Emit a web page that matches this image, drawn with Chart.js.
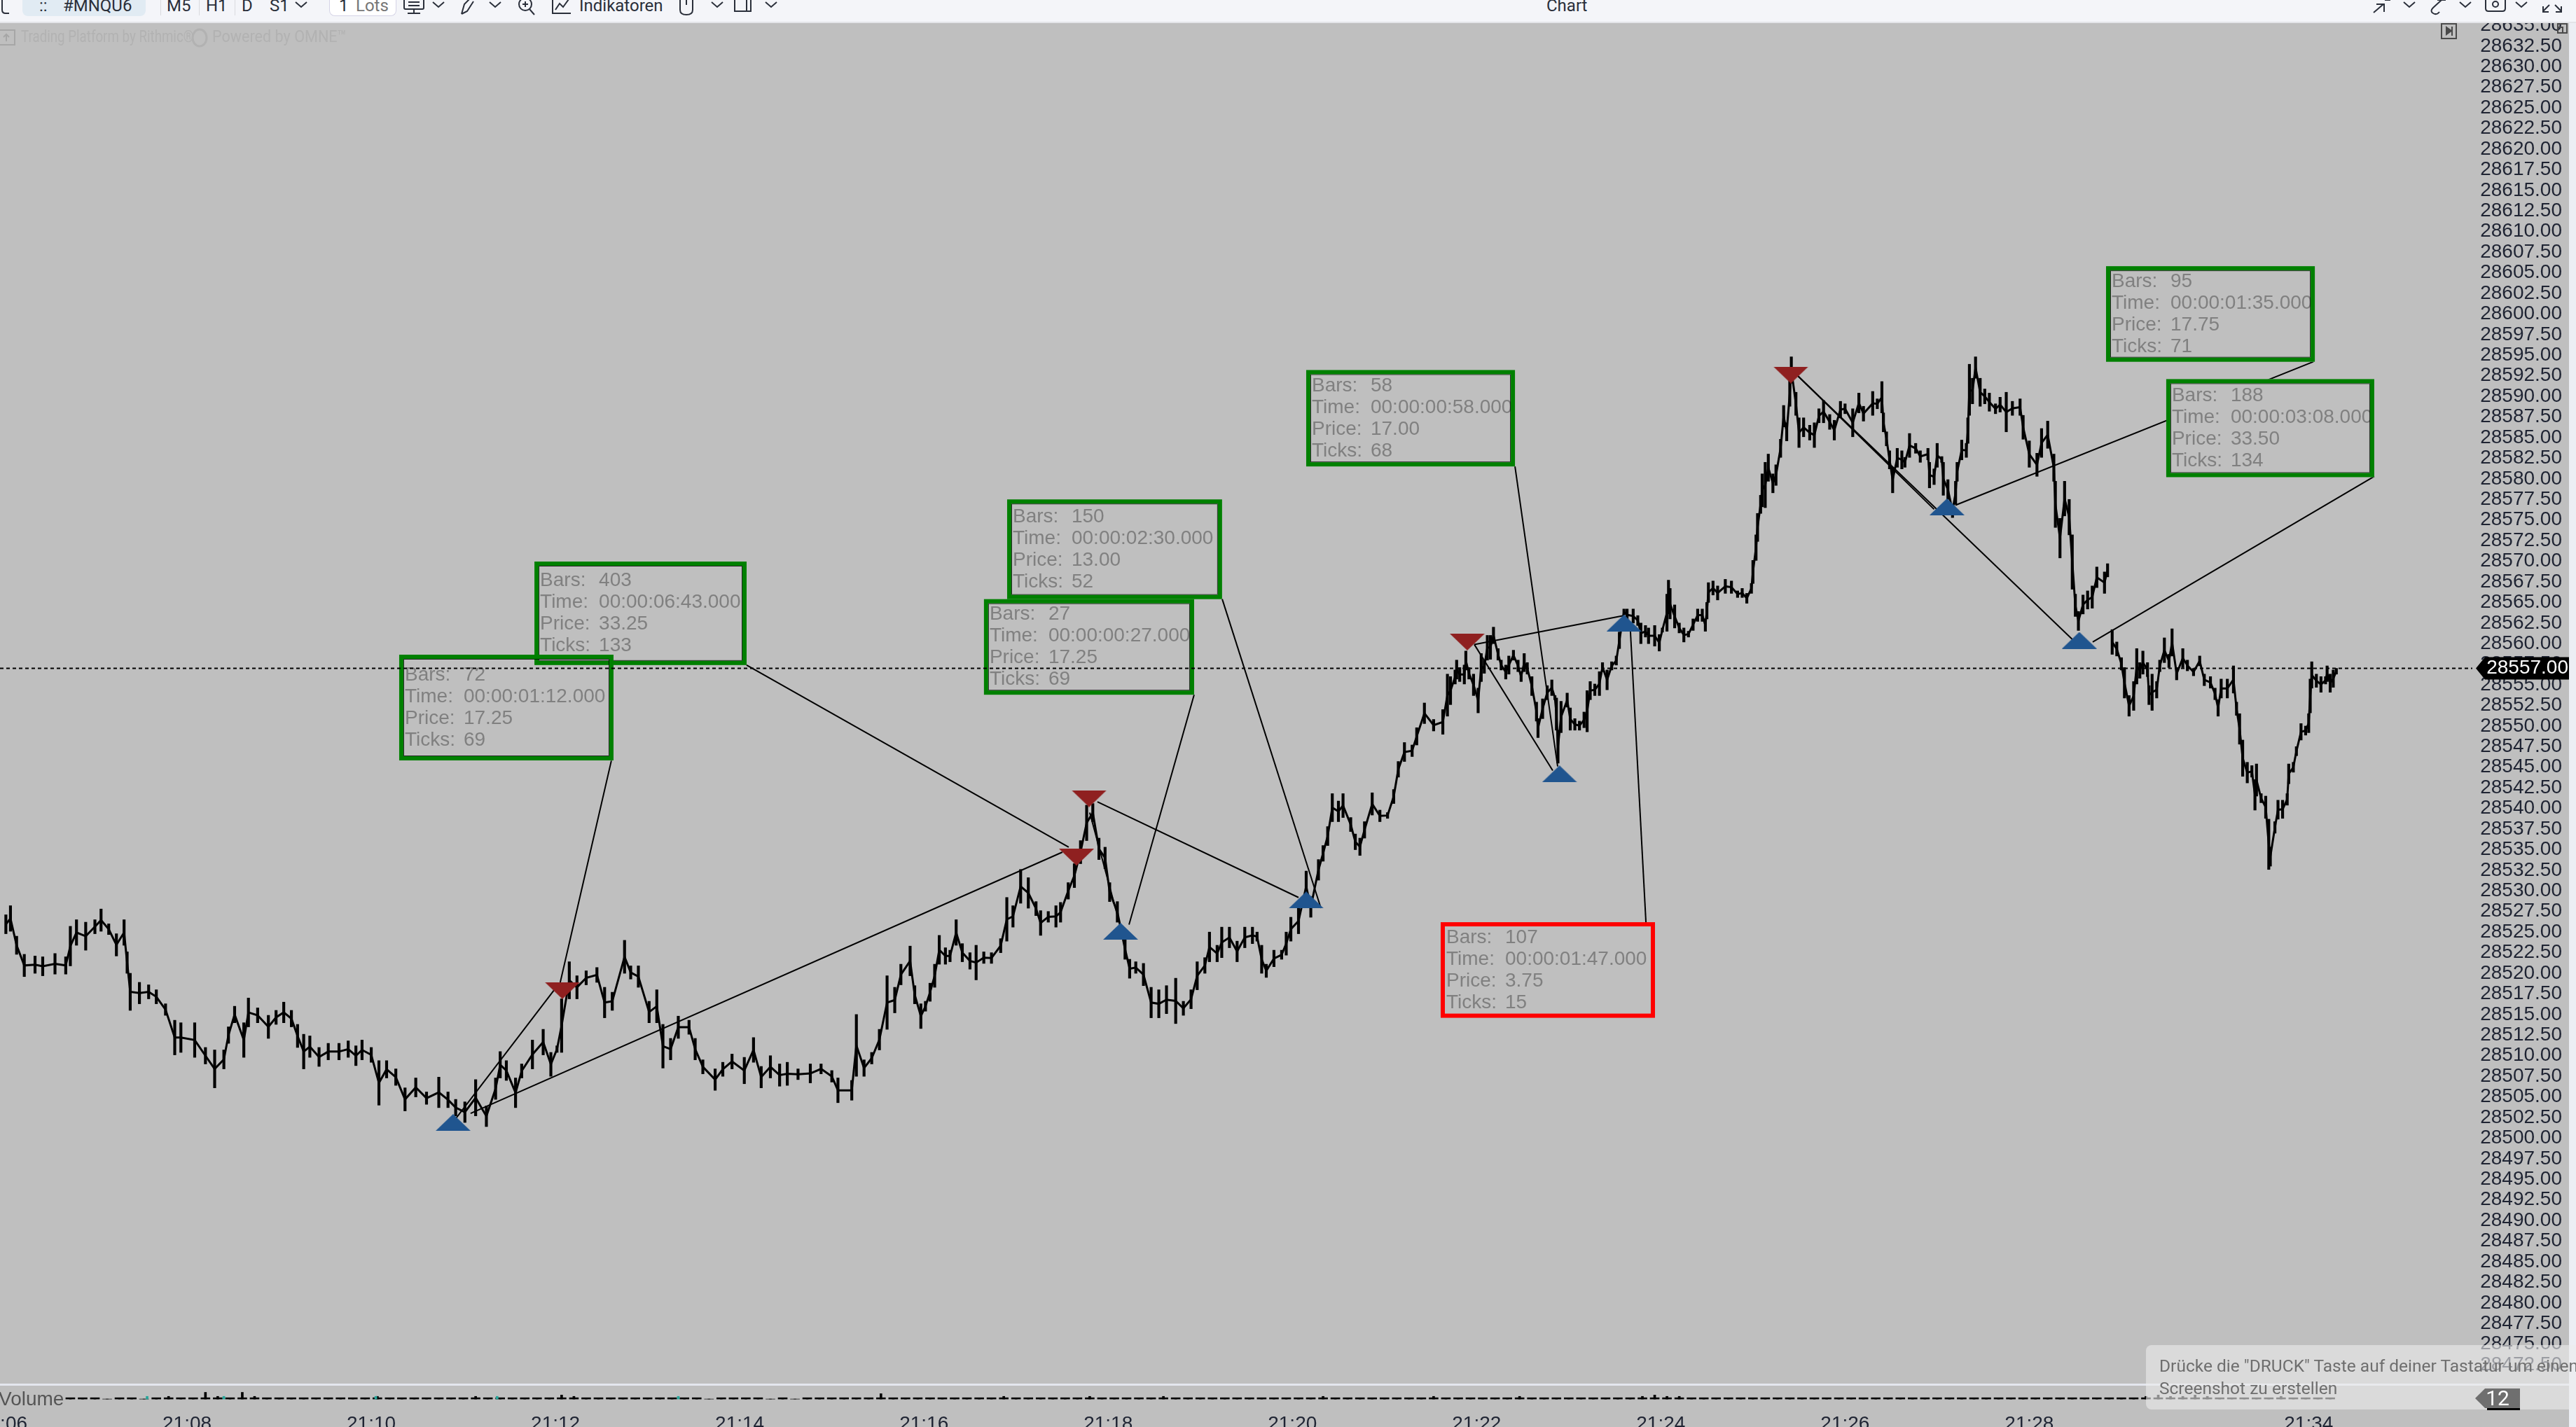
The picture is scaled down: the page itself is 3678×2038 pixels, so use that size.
<!DOCTYPE html>
<html lang="de">
<head>
    <meta charset="UTF-8">
    <title>Chart</title>
    <script src="https://cdn.jsdelivr.net/npm/chart.js"></script>
    <style>
        html, body {
            margin: 0;
            width: 3678px;
            height: 2038px;
            overflow: hidden;
            background: #bfbfbf;
            font-family: Roboto, Arial, sans-serif;
        }

        #grafica { position: absolute; left: 0; top: 0; }
        .abs { position: absolute; white-space: nowrap; }

        #toolbar {
            position: absolute; left: 0; top: 0; width: 3678px; height: 31px;
            background: #f4f5f9; border-bottom: 2px solid #e3e4e8;
            color: #2a2f3a; font-size: 24px; overflow: hidden;
        }
        #toolbar .abs { top: -8px; line-height: 32px; }
        #toolbar svg { position: absolute; top: 0; fill: none; stroke: #2a2f3a; stroke-width: 2; }
        #pill { left: 32px; top: 0 !important; width: 176px; height: 23px; background: #e1ebf3; border-radius: 0 0 8px 8px; }
        #lots { left: 470px; top: 0 !important; width: 94px; height: 22px; background: #fff; border: 1px solid #d5d4e6; border-top: 0; border-radius: 0 0 8px 8px; }
        .sep { top: 0 !important; width: 1px; height: 22px; background: #d9dade; }

        #rand { position: absolute; left: 3668px; top: 32px; width: 10px; height: 2006px; background: #eceef4; }
        #trenner { position: absolute; left: 0; top: 1976px; width: 3668px; height: 3px; background: #e4e6ee; }
        #volLabel { left: -2px; top: 1982px; font: 28px "Liberation Sans", Arial, sans-serif; color: #555; }

        .faint { color: #b2b2b2; font-size: 24px; top: 38px; transform-origin: left center; }

        #toast {
            position: absolute; left: 3064px; top: 1921px; width: 614px; height: 92px;
            background: rgba(236, 236, 236, .6); border-radius: 8px 0 0 8px; overflow: hidden;
            color: #6e6e6e; font-size: 24.5px;
        }
        #toast div { position: absolute; left: 19px; white-space: nowrap; }

        #badge {
            position: absolute; left: 3534px; top: 1983px; width: 64px; height: 28px;
            background: #6f6f6f; color: #fff; font-size: 30px; line-height: 28px; text-align: center;
            clip-path: polygon(0 50%, 22% 0, 100% 0, 100% 100%, 22% 100%);
        }
        #badgeLine { position: absolute; left: 3551px; top: 2011px; width: 47px; height: 3px; background: #000; }
    </style>
</head>
<body>

<canvas id="grafica" width="3678" height="2038"></canvas>

<div id="rand"></div>
<div id="trenner"></div>
<div id="volLabel" class="abs">Volume</div>

<div class="abs faint" style="left:30px;transform:scaleX(.78)">Trading Platform by Rithmic®</div>
<svg class="abs" style="left:272px;top:40px" width="26" height="28" fill="none" stroke="#b2b2b2" stroke-width="3"><ellipse cx="13" cy="14" rx="10" ry="12"/></svg>
<div class="abs faint" style="left:303px;transform:scaleX(.9)">Powered by OMNE™</div>
<svg class="abs" style="left:0;top:42px" width="23" height="23" fill="none" stroke="#a6a6a6" stroke-width="2"><rect x="-2" y="1" width="23" height="21"/><path d="M9 17V7M5 11l4-4 4 4"/></svg>

<svg class="abs" style="left:3485px;top:33px" width="23" height="23" fill="none" stroke="#4a4a4a" stroke-width="2"><rect x="1" y="1" width="21" height="21"/><path d="M8 6l7 5-7 5z" fill="#4a4a4a"/><path d="M16 5v13"/></svg>
<svg class="abs" style="left:3651px;top:33px" width="15" height="15" fill="none" stroke="#4a4a4a" stroke-width="2"><rect x="1" y="1" width="13" height="13"/><path d="M1 6h7v8"/></svg>

<div id="toolbar">
    <div class="abs" id="pill"></div>
    <div class="abs" style="left:56px">::</div>
    <div class="abs" style="left:90px">#MNQU6</div>
    <div class="abs sep" style="left:229px"></div>
    <div class="abs" style="left:238px">M5</div>
    <div class="abs sep" style="left:284px"></div>
    <div class="abs" style="left:294px">H1</div>
    <div class="abs sep" style="left:335px"></div>
    <div class="abs" style="left:345px">D</div>
    <div class="abs" style="left:385px">S1</div>
    <div class="abs" id="lots"></div>
    <div class="abs" style="left:484px">1</div>
    <div class="abs" style="left:508px;color:#777">Lots</div>
    <div class="abs" style="left:827px">Indikatoren</div>
    <div class="abs" style="left:2208px">Chart</div>
    <svg style="left:0" width="16" height="22"><path d="M3 0v14q0 5 5 5h5"/></svg>
    <svg style="left:574px" width="36" height="20"><rect x="3" y="-4" width="28" height="17" rx="2"/><path d="M17 13v6M8 19h18M9 3h16M9 8h16"/></svg>
    <svg style="left:655px" width="34" height="22"><path d="M4 20l4-14 8-8M4 20l8-4 9-14"/></svg>
    <svg style="left:737px" width="30" height="22"><circle cx="13" cy="6" r="9"/><path d="M19 13l7 8M13 2v8M9 6h8"/></svg>
    <svg style="left:787px" width="30" height="22"><path d="M2 0v19h26M6 14l6-9 5 5 8-11"/></svg>
    <svg style="left:968px" width="26" height="24"><path d="M3 0v14q0 7 9 7t9-7v-14M12 0v7"/></svg>
    <svg style="left:1047px" width="28" height="24"><path d="M2 -2v18h17v-18M8 -2h17v18h-6"/></svg>
    <svg style="left:420px" width="20" height="14"><path d="M2 3l8 7 8-7"/></svg>
    <svg style="left:616px" width="20" height="14"><path d="M2 3l8 7 8-7"/></svg>
    <svg style="left:697px" width="20" height="14"><path d="M2 3l8 7 8-7"/></svg>
    <svg style="left:1014px" width="20" height="14"><path d="M2 3l8 7 8-7"/></svg>
    <svg style="left:1091px" width="20" height="14"><path d="M2 3l8 7 8-7"/></svg>
    <svg style="left:3385px" width="34" height="22"><path d="M4 18l14-12M8 6h11v11M20 0h8"/></svg>
    <svg style="left:3430px" width="20" height="14"><path d="M2 3l8 7 8-7"/></svg>
    <svg style="left:3466px" width="32" height="22"><path d="M20 0l-12 11q-5 5 0 8t9-2M14 0h12"/></svg>
    <svg style="left:3510px" width="20" height="14"><path d="M2 3l8 7 8-7"/></svg>
    <svg style="left:3547px" width="32" height="20"><path d="M2 -2v14q0 4 4 4h20q4 0 4-4v-14"/><circle cx="16" cy="6" r="4"/></svg>
    <svg style="left:3590px" width="20" height="14"><path d="M2 3l8 7 8-7"/></svg>
    <svg style="left:3628px" width="32" height="22"><path d="M12 7l-9 9M3 9v8h8M20 7l9 9M29 9v8h-8"/></svg>
</div>

<div id="toast">
    <div style="top:15px">Drücke die "DRUCK" Taste auf deiner Tastatur um einen</div>
    <div style="top:47px">Screenshot zu erstellen</div>
</div>
<div id="badge">12</div>
<div id="badgeLine"></div>

<script>
        // Kurse als Abstand zu priceBase, Zeit als Balken-Nummer (1 Balken = 1 Sekunde) ab 21:06
        const priceBase = 28500;
        const currentPrice = 28557;

        const tickSecs = [0, 120, 240, 360, 480, 600, 720, 840, 960, 1080, 1200, 1320, 1502];
        const tickLabels = ['21:06', '21:08', '21:10', '21:12', '21:14', '21:16', '21:18', '21:20', '21:22', '21:24', '21:26', '21:28', '21:34'];

        const barSecs = [
            2,5,9,14,21,26,34,41,44,48,54,60,64,69,74,79,81,83,89,95,100,106,112,116,125,132,138,144,147,151,157,160,166,173,178,183,188,192,196,200,206,212,219,225,230,234,240,245,250,256,262,269,276,284,290,295,301,308,315,321,324,328,334,338,345,352,357,361,364,369,374,380,387,392,397,405,409,414,421,426,430,435,440,447,451,456,464,469,475,483,489,494,500,506,511,518,526,533,540,544,553,556,561,566,571,576,581,585,591,
            594,598,601,604,607,610,614,617,621,625,630,634,639,644,650,654,658,663,668,673,676,681,686,689,694,698,702,706,710,714,718,721,726,731,734,738,743,748,753,758,764,769,774,778,783,786,791,794,799,804,809,814,817,820,823,828,833,836,839,844,849,852,857,860,863,866,870,873,878,881,884,887,892,897,902,906,909,913,918,921,926,932,938,
            941,943,946,947,949,952,953,955,958,961,963,965,967,969,971,974,976,979,981,984,987,989,991,993,996,999,1000,1003,1006,1009,1011,1012,1013,1015,1019,1021,1024,1027,1030,1032,1034,1037,1040,1042,1045,1048,1051,1053,1056,1058,1062,1065,1067,1070,1072,1076,1079,1081,1084,
            1085,1086,1089,1092,1095,1098,1101,1104,1107,1109,1110,1111,1114,1117,1122,1126,1130,1133,1136,1139,1140,1142,1143,1145,1146,1148,1150,1153,1155,1158,1160,1162,1164,1165,1168,1170,1173,1177,1180,1183,1186,1190,1193,1197,1200,1205,1209,1212,1218,1221,1224,1225,1227,1229,1231,1234,1237,1239,1242,1246,1249,1254,1255,1258,1260,1263,1264,1267,1270,1272,1273,1276,1279,1280,1281,1283,1285,1288,1291,1294,1298,1301,
            1305,1309,1314,1316,1320,1325,1328,1332,1336,1337,1340,1343,1346,1348,1350,1352,1355,1358,1361,1364,1369,1371,1372,
            1374,1377,1380,1382,1385,1388,1390,1392,1394,1397,1398,1400,1403,1405,1408,1411,1413,1416,1420,1423,1427,1431,1434,1438,1441,1443,1445,1449,1453,1455,1457,1459,1462,1465,1467,1468,1471,1474,1476,1477,1480,1482,1485,1488,1489,1492,1494,1497,1500,1502,1503,1504,1507,1510,1513,1514,1516,1518,1520
        ];
        const barHighs = [
            27.1,28.2,24.5,22.3,22.1,22,22.4,22,25.7,26.5,26.2,26.5,27.8,26,24.8,26.5,22.6,20,18.9,18.6,18,16.3,14.3,14,14,11,10.7,10.7,13.5,16,14,17,15.8,14.9,15.5,16.5,15.5,13.8,12.6,12.4,11,11.5,11.5,11.8,11.2,11.9,11,9.4,9.4,8.4,6.1,7.3,5.6,7.4,5.6,4.7,4.4,7.1,3.9,7.3,10.5,9.4,7.3,9,11.9,13.2,10.4,11.2,16.9,21.4,19.7,20.3,20.7,18.3,17.7,24,20.9,20.9,16.6,18,13.8,12.1,14.8,14.3,12.1,9.5,8.4,9.2,10.2,9.8,12.2,8.7,10,9,9.2,8.4,9,9,8.2,7.3,7,15,9.5,10.4,13.2,19.7,18.3,21.1,23.3,
            18.5,16.3,16.6,18.8,21.1,24.6,23.1,22.8,26.5,23.6,22.5,23.4,22.6,22.5,24.2,29.2,28.2,32.6,31.6,28.7,27.6,27.5,28.2,28.6,31,33.3,36.1,40.4,40.6,36.4,35.3,31,28.7,24.2,21.7,21.4,21.2,18.3,18,18.5,19.4,16.6,18,21.4,21.9,25,23.4,25.6,25.6,23.9,25.6,25.6,25,23.4,21.1,22.8,22.8,25,26.8,27.9,32.4,29.3,33.8,35.5,37.8,41.8,40.9,41.8,38.9,36.9,36.4,38.4,41.9,39.8,39.5,42.3,45.7,48,47.7,49.8,52.8,50.8,52,
            56.3,56,56.8,58,57.1,57.4,59.1,57.1,56.3,54.6,58.8,58,61,61,62,59.4,58,57.4,58.5,59.2,58,56.6,58.8,57.7,56,52.9,50.9,53.3,54.9,55.6,53.7,53.4,49.5,53,54,52.2,50.9,50.6,51.7,54.3,55.4,55.1,56.6,57.7,56.8,57.8,58.5,61.4,64.2,64.2,64.2,63.4,62.5,62.2,61.9,62.2,61.1,61.9,66,
            67.7,66.7,64.7,62.5,61.9,61.5,63,64.2,64.2,63,65,67.4,67.6,67,67.8,67.6,66.4,66.7,66.1,67.3,70.1,73.2,75.8,78,80.6,82,83,80.6,81.7,84.8,88.9,86.8,91.9,94.8,90.5,87.4,87.4,86.5,86.8,88.5,89.5,87.8,87.1,89.4,89.1,88.5,90.4,88.8,90.6,89.7,91.8,88,85.7,83.4,81.4,83.7,83.4,82.6,85.5,84.3,83.4,83.7,82,81.2,84.3,82.7,82,79.9,76.9,79.7,82,84.7,84.3,87.4,93.9,92.2,94.8,92.2,90.9,90.4,89.1,89.9,
            90.5,89.4,89.7,87.7,84.6,83.1,86.1,87,83,79.7,75.2,79.7,77.5,73.2,66,63.9,65.9,66.4,67,69.3,68.7,69.7,null,
            61.7,60.2,58.3,57.1,53.7,55.4,59.4,57.7,59.1,57.7,54.9,56.3,55.4,58,60.7,58.7,61.8,57.1,59.4,58,57,58.5,56.3,56,54.6,53.2,55.7,55.7,57.3,52.9,51.5,48.3,45.6,45.2,43.5,45.4,41.8,41.5,38.7,35.3,38.4,41,41,41.8,45.4,45.6,47.5,50.3,50,51.5,55.7,57.8,56.3,56,56,57.3,56.3,56.8,57
        ];
        const barLows = [
            24.8,25.1,22.3,19.6,20,19.7,19.9,19.9,20.9,23.4,22.8,24.8,25.1,24.7,22.1,23.4,20,15.5,16.3,16.9,16.3,14.9,10.1,10.4,9.8,9,6.1,8.4,11.5,14,9.8,13.5,14,12.1,13.8,14,13.5,11,8.4,9.8,8.7,9.5,9.5,9.8,8.8,9.5,9.2,4,7.3,6.4,3.3,5,4.1,3.7,3.7,2.7,1.9,2.7,1.4,4.7,7.3,7,3.7,7.3,8.4,10.1,7.5,10.4,10.4,16.9,16.9,18.6,18.9,14.6,15.5,20,19.3,18.3,14,14,8.5,9.5,12.1,12.6,9.5,7.8,5.8,7.5,8.4,6.6,9.2,6.1,7.3,6.3,6.4,7.1,6.7,7.8,6.8,4.3,4.6,7.5,7.5,9,10.7,13.2,15.2,18.6,19.7,
            16.3,13.3,15.4,16.6,18.3,21.1,21.1,21.4,23.4,21.4,20.5,19.2,21.2,21.2,22.5,23.9,25.6,28.5,27.9,27,24.6,26.2,25.6,26.2,29,30.4,33.3,36.1,38.4,33.8,32.7,28.7,26.2,21.7,19.4,20,18.5,14.6,14.6,15.1,13.9,14.9,15.7,18,20,21.4,21.4,21.9,23.1,21.4,23.1,23.6,23.9,20,19.5,20.8,21.7,22.2,23.9,24.8,28.7,26.8,31.3,33.6,35.5,38.4,38.4,38.9,37.2,35,34.3,36.4,39.2,38.4,38.8,40.6,43.8,45.7,46.3,47.7,50.3,49.4,49,
            51.2,52.6,55.1,55.7,55.4,55.1,56.8,55.7,53.7,51.6,55.4,56.4,58,58.1,60,58,56.8,55.7,56.3,58,56.6,55.4,56.6,56.3,53.7,50.6,48.6,50.9,53.2,53.7,53.2,49.5,45.5,49.2,52.3,49.5,49.5,49.5,49.8,49.3,53.2,53.7,53.7,56.6,54.4,56.8,57.4,59.4,63.5,62.8,62.5,62.2,60,60.8,60,59.7,59.1,61.4,61.5,
            63.6,63,61.9,61.3,60.2,60.8,61.6,62.7,62.7,61.5,63,65,65.9,65.3,66.1,66.1,65.6,65.6,64.9,66.1,67.3,70.1,72.4,75.8,76.6,76.5,79.7,78.3,79.2,82.6,86.3,84.6,88.8,91.6,87.7,83.8,85.1,84.7,83.8,86.8,86.8,86,84.7,87.4,87.9,85.1,88,87,87.7,88.5,88,85.7,84,81.2,78.3,81.4,81.2,81.4,82.6,83.1,82,82.3,78.9,79.3,81.4,82,78,77.5,75.3,76.9,79.7,82.3,82.6,84.3,87.7,89.1,92.2,88.8,89.1,88.2,87.9,88.1,
            85.7,87.7,87.7,84.8,81.4,80.3,82.6,83.7,79.7,74.1,70.4,75.5,73.2,66.6,63.3,61.6,63.6,64.2,64.3,66.8,66.1,68.1,null,
            58.7,58.5,56.8,53.4,51.2,51.9,55.1,55.8,56.3,56,52.6,51.9,53.4,56.6,57.7,57.1,58.5,55.6,57.1,56.7,56.1,57.3,54.9,54.6,53.2,51.2,53.4,53.4,54,51.3,47.8,43.9,43.1,43.8,39.8,41.5,40.7,38.8,32.6,33,37,38.7,38.8,40.4,43,44.4,46.4,48.3,48.9,49.2,51.6,54.6,54.7,54.1,55.1,55.4,54.1,54.7,56.3
        ];

        // Volumen: alle 8 Balken ein Wert, beginnend bei Balken 44
        const volumeStart = 44;
        const volumeStep = 8;
        const volumes = [
            1,1,1,0,1,1,0,1,2,1,1,5,2,1,5,2,1,1,1,1,
            1,1,1,1,1,2,1,1,1,1,1,1,1,2,1,1,1,1,1,1,
            3,2,1,1,1,1,1,1,1,1,1,1,0,1,1,1,1,0,1,0,
            1,1,1,1,1,1,4,1,1,1,1,1,1,1,1,1,2,1,1,1,
            1,1,1,2,1,1,1,1,1,2,1,1,1,1,1,1,1,1,1,1,
            1,1,2,1,1,1,1,1,1,1,1,2,1,1,1,1,1,1,2,1,
            1,1,1,1,1,1,1,1,2,3,2,2,1,1,1,1,1,1,1,1,
            1,1,1,1,1,1,1,1,1,1,1,1,1,1,1,1,1,1,1,1,
            1,1,1,1,1,1,1,1,1,2,3,2,2,3,2,1,1,1,1,1,
            2,1,1,1,1
        ];
        const upVolumeSecs = [94, 144, 243, 322, 440];

        // Wendepunkte
        const blueSecs = [293.3, 728.1, 849, 1014, 1056, 1266.4, 1352.6];
        const bluePrices = [1.9, 25.1, 28.9, 44.2, 62.5, 76.6, 60.4];
        const redSecs = [364.5, 699.4, 707.6, 953.9, 1164.7];
        const redPrices = [17.9, 34.1, 41.2, 60.2, 92.6];

        // Verbindungslinien zwischen den Wendepunkten und zu den Messboxen
        const lineFromSecs = [295.2, 363.1, 304.7, 694.3, 708, 733.6, 713, 858.6, 958.5, 1012.8, 958.5, 1060.2, 1169.2, 1169.2, 1271.9, 1361.3];
        const lineFromPrices = [2.4, 18.9, 3, 35.3, 39.5, 25.9, 40.8, 27.9, 59.9, 45.1, 59.9, 61.5, 92.5, 92.5, 76.8, 60.2];
        const lineToSecs = [359.5, 396.4, 690.2, 484.5, 727.2, 776, 844, 794.3, 1009.6, 985, 1055.7, 1070.3, 1258, 1348.1, 1505, 1544.7];
        const lineToPrices = [18.05, 45.8, 34.7, 57.4, 26.2, 53.8, 29.2, 65.4, 44.6, 81.5, 63.4, 26.2, 76.3, 60.5, 94.2, 80.3];

        // Messboxen, Eckwerte in Balken und Kurs
        const boxLefts = [346.3, 258.2, 654.2, 639.1, 849, 936.6, 1370, 1409.2];
        const boxRights = [484.5, 397.8, 794.2, 776, 985, 1076.2, 1506, 1544.7];
        const boxTops = [69.96, 58.66, 77.5, 65.4, 93.2, 26.2, 105.8, 92.1];
        const boxBottoms = [57.4, 45.83, 65.4, 53.8, 81.5, 14.6, 94.2, 80.2];
        const boxBars = ['403', '72', '150', '27', '58', '107', '95', '188'];
        const boxTimes = ['00:00:06:43.000', '00:00:01:12.000', '00:00:02:30.000', '00:00:00:27.000', '00:00:00:58.000', '00:00:01:47.000', '00:00:01:35.000', '00:00:03:08.000'];
        const boxPrices = ['33.25', '17.25', '13.00', '17.25', '17.00', '3.75', '17.75', '33.50'];
        const boxTicks = ['133', '69', '52', '69', '68', '15', '71', '134'];

        // Dreiecke fuer die Wendepunkte
        function crearTriangulo(arriba, color) {
            const c = document.createElement('canvas');
            c.width = 50;
            c.height = 24;
            const t = c.getContext('2d');
            t.fillStyle = color;
            t.beginPath();
            if (arriba) {
                t.moveTo(25, 0); t.lineTo(50, 24); t.lineTo(0, 24);
            } else {
                t.moveTo(0, 0); t.lineTo(50, 0); t.lineTo(25, 24);
            }
            t.fill();
            return c;
        }

        // Verbindung der Balken untereinander, jeweils durch die Balkenmitte
        const priceLine = barSecs.map((s, i) => ({
            x: s,
            y: barHighs[i] === null ? null : priceBase + (barHighs[i] + barLows[i]) / 2
        }));

        // Jeder Balken als schwebende Saeule von Low bis High
        const priceBars = barSecs
            .map((s, i) => (barHighs[i] === null ? null : { x: s, y: [priceBase + barLows[i], priceBase + barHighs[i]] }))
            .filter(b => b !== null);

        const xMin = -1.82;
        const xMax = 1608.6;

        const connectorSets = lineFromSecs.map((s, i) => ({
            type: 'line',
            data: [
                { x: s, y: priceBase + lineFromPrices[i] },
                { x: lineToSecs[i], y: priceBase + lineToPrices[i] }
            ],
            borderColor: '#000',
            borderWidth: 2,
            pointRadius: 0,
            yAxisID: 'y'
        }));

        const datasets = [
            {
                type: 'line', showLine: false, yAxisID: 'y',
                data: blueSecs.map((s, i) => ({ x: s, y: priceBase + bluePrices[i] })),
                pointStyle: crearTriangulo(true, '#20558f'), pointRadius: 12
            },
            {
                type: 'line', showLine: false, yAxisID: 'y',
                data: redSecs.map((s, i) => ({ x: s, y: priceBase + redPrices[i] })),
                pointStyle: crearTriangulo(false, '#8f2020'), pointRadius: 12
            },
            {
                type: 'line', yAxisID: 'y',
                data: [{ x: xMin, y: currentPrice }, { x: xMax, y: currentPrice }],
                borderColor: '#000', borderWidth: 2, borderDash: [5, 4], pointRadius: 0
            },
            ...connectorSets,
            {
                type: 'line', yAxisID: 'y',
                data: priceLine,
                borderColor: '#000', borderWidth: 3, pointRadius: 0, spanGaps: false
            },
            {
                type: 'bar', yAxisID: 'y',
                data: priceBars,
                backgroundColor: '#000', barThickness: 3.5, grouped: false
            },
            {
                type: 'bar', yAxisID: 'yVol',
                data: upVolumeSecs.map(s => ({ x: s, y: 2 })),
                backgroundColor: '#26a69a', barThickness: 3, grouped: false
            },
            // schmale Spitzen ueber dem durchlaufenden Sockel
            {
                type: 'bar', yAxisID: 'yVol',
                data: volumes.map((v, i) => ({ x: volumeStart + i * volumeStep, y: v > 1 ? v : 0 })),
                backgroundColor: '#000', barThickness: 3, grouped: false
            },
            {
                type: 'bar', yAxisID: 'yVol',
                data: volumes.map((v, i) => ({ x: volumeStart + i * volumeStep, y: Math.min(v, 1) })),
                backgroundColor: '#000', barThickness: 13, grouped: false
            }
        ];
        const dottedIndex = 2;

        // Messboxen: zuerst Flaeche und Text, danach alle Rahmen
        const boxPlugin = {
            id: 'boxPlugin',
            beforeDatasetDraw(chart, args) {
                if (args.index !== dottedIndex) return;
                const ctx = chart.ctx;
                const x = chart.scales.x;
                const y = chart.scales.y;
                const rects = boxLefts.map((l, i) => {
                    const left = x.getPixelForValue(l);
                    const top = y.getPixelForValue(priceBase + boxTops[i]);
                    return {
                        left, top,
                        w: x.getPixelForValue(boxRights[i]) - left,
                        h: y.getPixelForValue(priceBase + boxBottoms[i]) - top
                    };
                });
                ctx.save();
                ctx.font = '28px "Liberation Sans", Arial, sans-serif';
                ctx.textBaseline = 'middle';
                rects.forEach((r, i) => {
                    ctx.fillStyle = '#bfbfbf';
                    ctx.fillRect(r.left, r.top, r.w, r.h);
                    ctx.fillStyle = '#808080';
                    const filas = [['Bars:', boxBars[i]], ['Time:', boxTimes[i]], ['Price:', boxPrices[i]], ['Ticks:', boxTicks[i]]];
                    const centro = r.top + r.h / 2;
                    filas.forEach((f, k) => {
                        const fy = centro + (k - 1.5) * 31;
                        ctx.fillText(f[0], r.left + 8, fy);
                        ctx.fillText(f[1], r.left + 92, fy);
                    });
                });
                rects.forEach((r, i) => {
                    const rojo = parseFloat(boxPrices[i]) < 10;
                    if (!rojo) {
                        ctx.strokeStyle = 'rgba(0,0,0,.8)';
                        ctx.lineWidth = 1;
                        ctx.strokeRect(r.left + 6.5, r.top + 6.5, r.w - 13, r.h - 13);
                    }
                    ctx.strokeStyle = rojo ? '#ff0000' : '#008000';
                    ctx.lineWidth = 6;
                    ctx.strokeRect(r.left + 3, r.top + 3, r.w - 6, r.h - 6);
                });
                ctx.restore();
            },
            // Kursmarke rechts auf der Preisachse
            afterDraw(chart) {
                const ctx = chart.ctx;
                const py = chart.scales.y.getPixelForValue(currentPrice);
                const right = chart.width - 10;
                ctx.save();
                ctx.fillStyle = '#000';
                ctx.beginPath();
                ctx.moveTo(chart.chartArea.right + 5, py);
                ctx.lineTo(chart.chartArea.right + 18, py - 16);
                ctx.lineTo(right, py - 16);
                ctx.lineTo(right, py + 16);
                ctx.lineTo(chart.chartArea.right + 18, py + 16);
                ctx.closePath();
                ctx.fill();
                ctx.fillStyle = '#fff';
                ctx.font = '28px "Liberation Sans", Arial, sans-serif';
                ctx.textAlign = 'right';
                ctx.textBaseline = 'middle';
                ctx.fillText(currentPrice.toFixed(2), right - 1, py);
                ctx.restore();
            }
        };

        const tickFont = { family: '"Liberation Sans", Arial, sans-serif', size: 28 };

        const grafica = new Chart(document.getElementById('grafica').getContext('2d'), {
            data: { datasets },
            plugins: [boxPlugin],
            options: {
                animation: false,
                responsive: false,
                devicePixelRatio: 1,
                layout: { autoPadding: false, padding: { top: 32, right: 20, left: 0, bottom: 0 } },
                plugins: { legend: { display: false }, tooltip: { enabled: false } },
                scales: {
                    x: {
                        type: 'linear',
                        min: xMin,
                        max: xMax,
                        offset: false,
                        grid: { display: false, offset: false },
                        border: { display: false },
                        afterBuildTicks: scale => { scale.ticks = tickSecs.map(v => ({ value: v })); },
                        afterFit: scale => { scale.height = 38; scale.paddingLeft = 0; scale.paddingRight = 0; },
                        ticks: {
                            font: tickFont,
                            color: '#1f2433',
                            padding: 9,
                            maxRotation: 0,
                            autoSkip: false,
                            callback: v => tickLabels[tickSecs.indexOf(v)]
                        }
                    },
                    y: {
                        type: 'linear',
                        position: 'right',
                        stack: 'panes',
                        stackWeight: 1945,
                        min: 28470.13,
                        max: 28635.38,
                        grid: { display: false },
                        border: { display: false },
                        afterFit: scale => { scale.width = 128; },
                        ticks: {
                            stepSize: 2.5,
                            includeBounds: false,
                            autoSkip: false,
                            font: tickFont,
                            color: '#1f2433',
                            padding: 0,
                            crossAlign: 'far',
                            callback: v => v.toFixed(2)
                        }
                    },
                    yVol: {
                        type: 'linear',
                        position: 'right',
                        stack: 'panes',
                        stackWeight: 23,
                        min: -1,
                        max: 11,
                        grid: { display: false },
                        border: { display: false },
                        afterFit: scale => { scale.width = 128; },
                        ticks: { display: false }
                    }
                }
            }
        });
    </script>

</body>
</html>
